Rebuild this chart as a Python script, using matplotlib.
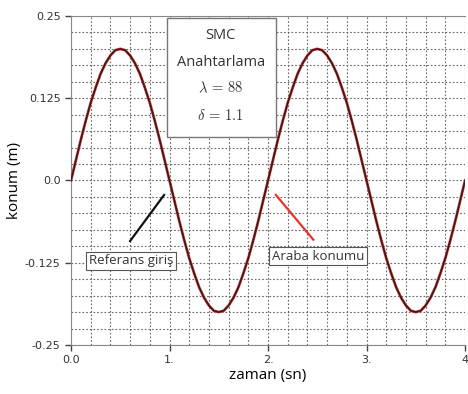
import matplotlib
matplotlib.use('Agg')
import matplotlib.pyplot as plt
from matplotlib.patches import Rectangle

# zaman ekseni (0.05 s aralikla) ve okunan konum degerleri
zaman = [i * 0.05 for i in range(81)]
yarim = [0.0, 0.031, 0.062, 0.091, 0.118, 0.141, 0.162, 0.178, 0.190, 0.198,
         0.200, 0.198, 0.190, 0.178, 0.162, 0.141, 0.118, 0.091, 0.062, 0.031]
referans = (yarim + [-v for v in yarim]) * 2 + [0.0]
araba = list(referans)

x_ticks = [0, 1, 2, 3, 4]
x_ticklabels = ['0.0', '1.', '2.', '3.', '4']
y_ticks = [-0.25, -0.125, 0.0, 0.125, 0.25]
y_ticklabels = ['-0.25', '-0.125', '0.0', '0.125', '0.25']
kutu_satirlari = ['SMC', 'Anahtarlama', r'$\lambda\,=\,88$', r'$\delta\,=\,1.1$']

plt.rcParams['font.family'] = ['Open Sans', 'DejaVu Sans']
plt.rcParams['mathtext.fontset'] = 'cm'

fig = plt.figure(figsize=(4.68, 3.94), dpi=100)
ax = fig.add_axes([0.1517, 0.1244, 0.842, 0.835])

ax.plot(zaman, araba, color='#e8312f', lw=2.0, zorder=3)
ax.plot(zaman, referans, color='#222222', lw=1.1, zorder=4)

ax.set_xlim(0, 4)
ax.set_ylim(-0.25, 0.25)
ax.set_xticks([i * 0.2 for i in range(21)], minor=True)
ax.set_yticks([-0.25 + i * 0.025 for i in range(21)], minor=True)
ax.set_xticks(x_ticks)
ax.set_xticklabels(x_ticklabels)
ax.set_yticks(y_ticks)
ax.set_yticklabels(y_ticklabels)
ax.grid(which='both', color='#666666', lw=0.8, linestyle=(0, (1.5, 1.8)))
ax.tick_params(which='major', labelsize=8, colors='#444444', length=4, width=1)
ax.tick_params(which='minor', length=0)
for lbl in ax.get_xticklabels() + ax.get_yticklabels():
    lbl.set_family(['Liberation Sans Narrow', 'DejaVu Sans'])
    lbl.set_color('#333333')
for s in ['left', 'bottom', 'top']:
    ax.spines[s].set_color('#888888')
ax.spines['right'].set_visible(False)

ax.set_xlabel('zaman (sn)', fontsize=11, labelpad=2)
ax.set_ylabel('konum (m)', fontsize=11, labelpad=2)

# parametre kutusu
ax.add_patch(Rectangle((0.975, 0.066), 1.105, 0.181, facecolor='white',
                       edgecolor='#777777', lw=1.0, zorder=5))
for yy, satir in zip([0.221, 0.180, 0.140, 0.098], kutu_satirlari):
    ax.text(1.52, yy, satir, ha='center', va='center', fontsize=10.5,
            color='#333333', zorder=6)

# etiketler
ax.plot([0.60, 0.945], [-0.092, -0.022], color='#111111', lw=1.6, zorder=5)
ax.text(0.61, -0.122, 'Referans giriş', ha='center', va='center', fontsize=9.5,
        color='#333333', zorder=6,
        bbox=dict(boxstyle='square,pad=0.2', fc='white', ec='#555555', lw=0.8))
ax.plot([2.08, 2.46], [-0.022, -0.090], color='#e8312f', lw=1.6, zorder=5)
ax.text(2.51, -0.115, 'Araba konumu', ha='center', va='center', fontsize=9.5,
        color='#333333', zorder=6,
        bbox=dict(boxstyle='square,pad=0.2', fc='white', ec='#555555', lw=0.8))

fig.savefig('out.png', dpi=100)
